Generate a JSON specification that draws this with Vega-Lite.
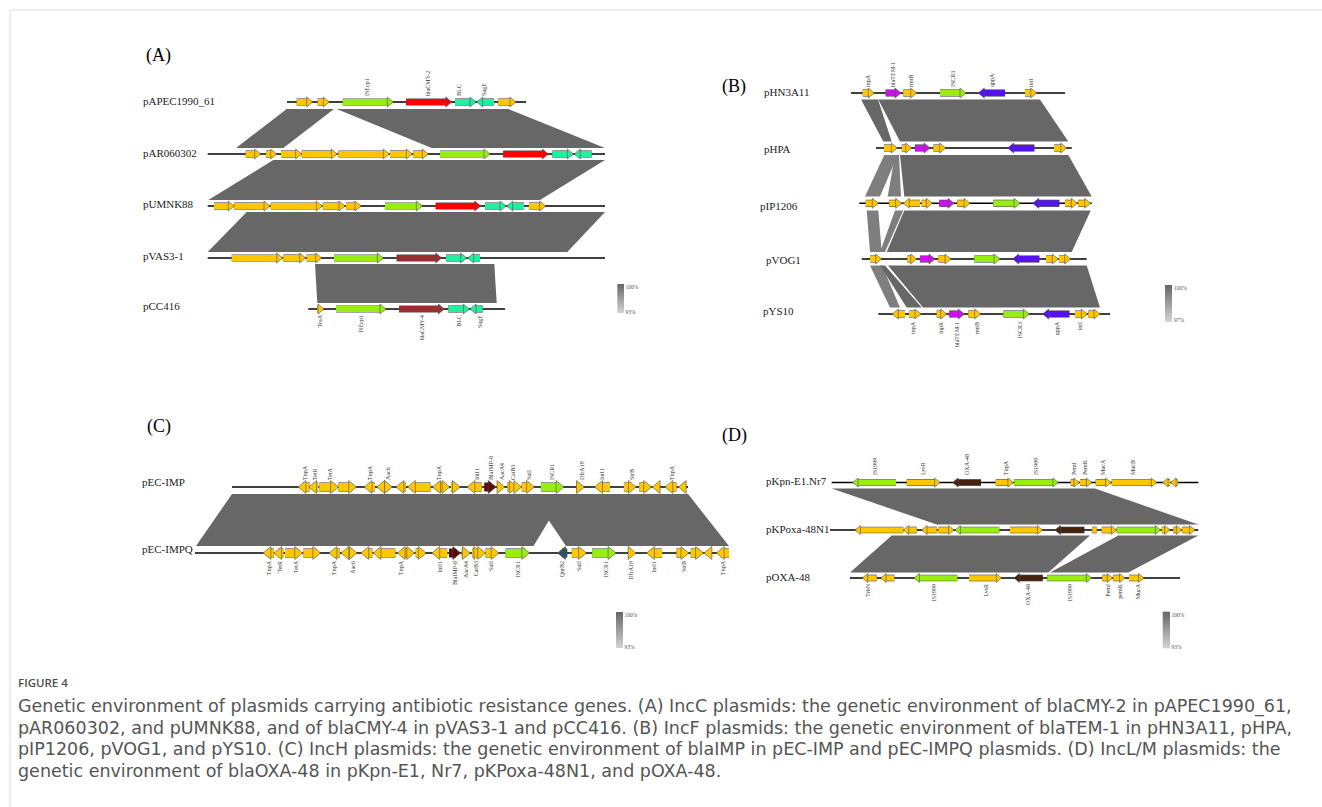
{
  "$schema": "https://vega.github.io/schema/vega-lite/v6.json",
  "width": 1322,
  "height": 807,
  "autosize": "none",
  "padding": 0,
  "background": "white",
  "config": {"view": {"stroke": null}, "axis": {"disable": true}, "legend": {"disable": true}},
  "datasets": {
    "frame": [
      {"x": 10, "x2": 1322, "y": 10, "y2": 10},
      {"x": 10, "x2": 10, "y": 10, "y2": 807}
    ],
    "tracks": [
      {"x": 287, "x2": 526, "y": 102},
      {"x": 207.7, "x2": 605, "y": 154},
      {"x": 207.7, "x2": 605, "y": 206},
      {"x": 207.7, "x2": 605, "y": 258},
      {"x": 308.3, "x2": 505, "y": 309},
      {"x": 851, "x2": 1065, "y": 93},
      {"x": 876, "x2": 1071.7, "y": 148},
      {"x": 859.3, "x2": 1091.7, "y": 203.3},
      {"x": 861.7, "x2": 1086.7, "y": 259},
      {"x": 878.3, "x2": 1110, "y": 314},
      {"x": 232, "x2": 688, "y": 487},
      {"x": 195, "x2": 729, "y": 553},
      {"x": 831.7, "x2": 1198.3, "y": 482.5},
      {"x": 830, "x2": 1198.3, "y": 530},
      {"x": 850, "x2": 1180, "y": 578}
    ],
    "bands": [
      {"id": "a1", "y": 109, "xl": 286.7, "xr": 334, "c": "hd"},
      {"id": "a1", "y": 148, "xl": 236, "xr": 283.3, "c": "hd"},
      {"id": "a2", "y": 109, "xl": 336.7, "xr": 508.3, "c": "hd"},
      {"id": "a2", "y": 148, "xl": 431.7, "xr": 605, "c": "hd"},
      {"id": "a3", "y": 160, "xl": 273.3, "xr": 605, "c": "hd"},
      {"id": "a3", "y": 200, "xl": 208.3, "xr": 540, "c": "hd"},
      {"id": "a4", "y": 212, "xl": 246.7, "xr": 605, "c": "hd"},
      {"id": "a4", "y": 252, "xl": 207.7, "xr": 567.3, "c": "hd"},
      {"id": "a5", "y": 264, "xl": 315, "xr": 494.3, "c": "hd"},
      {"id": "a5", "y": 303, "xl": 317.3, "xr": 496.7, "c": "hd"},
      {"id": "h1L", "y": 99.5, "xl": 861, "xr": 878, "c": "hd"},
      {"id": "h1L", "y": 141.5, "xl": 883.3, "xr": 891.7, "c": "hd"},
      {"id": "h1B", "y": 99.5, "xl": 878.3, "xr": 1040, "c": "hd"},
      {"id": "h1B", "y": 141.5, "xl": 900, "xr": 1068.3, "c": "hd"},
      {"id": "h2a", "y": 155, "xl": 884.3, "xr": 897.7, "c": "hl"},
      {"id": "h2a", "y": 196.5, "xl": 865, "xr": 880, "c": "hl"},
      {"id": "h2b", "y": 155, "xl": 895, "xr": 899, "c": "hl"},
      {"id": "h2b", "y": 196.5, "xl": 887.7, "xr": 901, "c": "hl"},
      {"id": "h2B", "y": 155, "xl": 900, "xr": 1068.3, "c": "hd"},
      {"id": "h2B", "y": 196.5, "xl": 904.3, "xr": 1091.7, "c": "hd"},
      {"id": "h3c", "y": 210.5, "xl": 866.7, "xr": 878.3, "c": "hl"},
      {"id": "h3c", "y": 252, "xl": 870, "xr": 881.7, "c": "hl"},
      {"id": "h3d", "y": 210.5, "xl": 895, "xr": 903.3, "c": "hl"},
      {"id": "h3d", "y": 252, "xl": 880, "xr": 885, "c": "hl"},
      {"id": "h3B", "y": 210.5, "xl": 904.3, "xr": 1090.7, "c": "hd"},
      {"id": "h3B", "y": 252, "xl": 886.7, "xr": 1071.7, "c": "hd"},
      {"id": "h4e", "y": 265.5, "xl": 870, "xr": 882, "c": "hl"},
      {"id": "h4e", "y": 307.5, "xl": 890, "xr": 900, "c": "hl"},
      {"id": "h4f", "y": 265.5, "xl": 880, "xr": 885, "c": "hd"},
      {"id": "h4f", "y": 307.5, "xl": 906.7, "xr": 921.7, "c": "hd"},
      {"id": "h4B", "y": 265.5, "xl": 888, "xr": 1086.7, "c": "hd"},
      {"id": "h4B", "y": 307.5, "xl": 923, "xr": 1100, "c": "hd"},
      {"id": "c1", "y": 494, "xl": 232, "xr": 565, "c": "hd"},
      {"id": "c1", "y": 546, "xl": 196, "xr": 533.5, "c": "hd"},
      {"id": "c2", "y": 494, "xl": 531, "xr": 688, "c": "hd"},
      {"id": "c2", "y": 546, "xl": 566, "xr": 729, "c": "hd"},
      {"id": "d1", "y": 488.5, "xl": 831.7, "xr": 1095, "c": "hd"},
      {"id": "d1", "y": 524.5, "xl": 936.7, "xr": 1198.3, "c": "hd"},
      {"id": "d2", "y": 535.5, "xl": 891.7, "xr": 1090, "c": "hd"},
      {"id": "d2", "y": 572.5, "xl": 850, "xr": 1048.3, "c": "hd"},
      {"id": "d3", "y": 535.5, "xl": 1118.3, "xr": 1198.3, "c": "hd"},
      {"id": "d3", "y": 572.5, "xl": 1050, "xr": 1128.3, "c": "hd"}
    ],
    "genes": [
      {"p": "A", "y": 102, "s": 296.7, "e": 312.7, "d": "+", "c": "y"},
      {"p": "A", "y": 102, "s": 317.7, "e": 329.3, "d": "+", "c": "y"},
      {"p": "A", "y": 102, "s": 342.7, "e": 393.3, "d": "+", "c": "g"},
      {"p": "A", "y": 102, "s": 406, "e": 451.7, "d": "+", "c": "r"},
      {"p": "A", "y": 102, "s": 455, "e": 476, "d": "+", "c": "t"},
      {"p": "A", "y": 102, "s": 476.7, "e": 494, "d": "-", "c": "t"},
      {"p": "A", "y": 102, "s": 498.3, "e": 516, "d": "+", "c": "y"},
      {"p": "A", "y": 154, "s": 245.7, "e": 260.7, "d": "+", "c": "y"},
      {"p": "A", "y": 154, "s": 266, "e": 276.7, "d": "+", "c": "y"},
      {"p": "A", "y": 154, "s": 281, "e": 301.7, "d": "+", "c": "y"},
      {"p": "A", "y": 154, "s": 301.7, "e": 337.3, "d": "+", "c": "y"},
      {"p": "A", "y": 154, "s": 338.3, "e": 389.3, "d": "+", "c": "y"},
      {"p": "A", "y": 154, "s": 390, "e": 412.3, "d": "+", "c": "y"},
      {"p": "A", "y": 154, "s": 413.3, "e": 428.3, "d": "+", "c": "y"},
      {"p": "A", "y": 154, "s": 440, "e": 490, "d": "+", "c": "g"},
      {"p": "A", "y": 154, "s": 503.3, "e": 548.3, "d": "+", "c": "r"},
      {"p": "A", "y": 154, "s": 552.3, "e": 573.3, "d": "+", "c": "t"},
      {"p": "A", "y": 154, "s": 574.3, "e": 591.7, "d": "-", "c": "t"},
      {"p": "A", "y": 206, "s": 214, "e": 234.3, "d": "+", "c": "y"},
      {"p": "A", "y": 206, "s": 234.3, "e": 270, "d": "+", "c": "y"},
      {"p": "A", "y": 206, "s": 270.7, "e": 322.3, "d": "+", "c": "y"},
      {"p": "A", "y": 206, "s": 322.7, "e": 345, "d": "+", "c": "y"},
      {"p": "A", "y": 206, "s": 346, "e": 361, "d": "+", "c": "y"},
      {"p": "A", "y": 206, "s": 385, "e": 422.3, "d": "+", "c": "g"},
      {"p": "A", "y": 206, "s": 435.7, "e": 480.7, "d": "+", "c": "r"},
      {"p": "A", "y": 206, "s": 485, "e": 506, "d": "+", "c": "t"},
      {"p": "A", "y": 206, "s": 506.7, "e": 524, "d": "-", "c": "t"},
      {"p": "A", "y": 206, "s": 529, "e": 545.7, "d": "+", "c": "y"},
      {"p": "A", "y": 258, "s": 231.7, "e": 282.7, "d": "+", "c": "y"},
      {"p": "A", "y": 258, "s": 283.3, "e": 305.7, "d": "+", "c": "y"},
      {"p": "A", "y": 258, "s": 306.7, "e": 321.7, "d": "+", "c": "y"},
      {"p": "A", "y": 258, "s": 334, "e": 383.3, "d": "+", "c": "g"},
      {"p": "A", "y": 258, "s": 396.7, "e": 441.7, "d": "+", "c": "dr"},
      {"p": "A", "y": 258, "s": 446, "e": 466.7, "d": "+", "c": "t"},
      {"p": "A", "y": 258, "s": 467.7, "e": 480, "d": "-", "c": "t"},
      {"p": "A", "y": 309, "s": 317.3, "e": 324, "d": "+", "c": "y"},
      {"p": "A", "y": 309, "s": 336, "e": 386, "d": "+", "c": "g"},
      {"p": "A", "y": 309, "s": 399, "e": 444.3, "d": "+", "c": "dr"},
      {"p": "A", "y": 309, "s": 448.3, "e": 469.3, "d": "+", "c": "t"},
      {"p": "A", "y": 309, "s": 470, "e": 482.7, "d": "-", "c": "t"},
      {"p": "B", "y": 93, "s": 862.7, "e": 874.3, "d": "+", "c": "y"},
      {"p": "B", "y": 93, "s": 885.7, "e": 901, "d": "+", "c": "m"},
      {"p": "B", "y": 93, "s": 903.3, "e": 916.7, "d": "+", "c": "y"},
      {"p": "B", "y": 93, "s": 940, "e": 966, "d": "+", "c": "g"},
      {"p": "B", "y": 93, "s": 978.3, "e": 1005, "d": "-", "c": "p"},
      {"p": "B", "y": 93, "s": 1025, "e": 1036.7, "d": "+", "c": "y"},
      {"p": "B", "y": 148, "s": 884, "e": 897.3, "d": "+", "c": "y"},
      {"p": "B", "y": 148, "s": 901.7, "e": 911.7, "d": "+", "c": "y"},
      {"p": "B", "y": 148, "s": 915, "e": 930, "d": "+", "c": "m"},
      {"p": "B", "y": 148, "s": 933.3, "e": 945.7, "d": "+", "c": "y"},
      {"p": "B", "y": 148, "s": 1007.7, "e": 1034.3, "d": "-", "c": "p"},
      {"p": "B", "y": 148, "s": 1054, "e": 1066.7, "d": "+", "c": "y"},
      {"p": "B", "y": 203.3, "s": 865.7, "e": 878.3, "d": "+", "c": "y"},
      {"p": "B", "y": 203.3, "s": 889.3, "e": 901.7, "d": "+", "c": "y"},
      {"p": "B", "y": 203.3, "s": 903.3, "e": 920, "d": "-", "c": "y"},
      {"p": "B", "y": 203.3, "s": 921.7, "e": 932.3, "d": "+", "c": "y"},
      {"p": "B", "y": 203.3, "s": 939.3, "e": 954, "d": "+", "c": "m"},
      {"p": "B", "y": 203.3, "s": 957.3, "e": 970, "d": "+", "c": "y"},
      {"p": "B", "y": 203.3, "s": 993.3, "e": 1020, "d": "+", "c": "g"},
      {"p": "B", "y": 203.3, "s": 1032.7, "e": 1059.3, "d": "-", "c": "p"},
      {"p": "B", "y": 203.3, "s": 1065, "e": 1077.3, "d": "+", "c": "y"},
      {"p": "B", "y": 203.3, "s": 1078.3, "e": 1090.7, "d": "+", "c": "y"},
      {"p": "B", "y": 259, "s": 870, "e": 881.7, "d": "+", "c": "y"},
      {"p": "B", "y": 259, "s": 907.3, "e": 916.7, "d": "+", "c": "y"},
      {"p": "B", "y": 259, "s": 920, "e": 935, "d": "+", "c": "m"},
      {"p": "B", "y": 259, "s": 938.3, "e": 951, "d": "+", "c": "y"},
      {"p": "B", "y": 259, "s": 974.3, "e": 1000, "d": "+", "c": "g"},
      {"p": "B", "y": 259, "s": 1012.7, "e": 1039.3, "d": "-", "c": "p"},
      {"p": "B", "y": 259, "s": 1046, "e": 1058.3, "d": "+", "c": "y"},
      {"p": "B", "y": 259, "s": 1059, "e": 1070.7, "d": "+", "c": "y"},
      {"p": "B", "y": 314, "s": 892.3, "e": 905, "d": "-", "c": "y"},
      {"p": "B", "y": 314, "s": 909, "e": 921, "d": "+", "c": "y"},
      {"p": "B", "y": 314, "s": 936.7, "e": 946.7, "d": "+", "c": "y"},
      {"p": "B", "y": 314, "s": 949.3, "e": 964.3, "d": "+", "c": "m"},
      {"p": "B", "y": 314, "s": 968.3, "e": 980.7, "d": "+", "c": "y"},
      {"p": "B", "y": 314, "s": 1003.3, "e": 1029.3, "d": "+", "c": "g"},
      {"p": "B", "y": 314, "s": 1042.7, "e": 1069.3, "d": "-", "c": "p"},
      {"p": "B", "y": 314, "s": 1075, "e": 1087.3, "d": "+", "c": "y"},
      {"p": "B", "y": 314, "s": 1088.3, "e": 1100, "d": "+", "c": "y"},
      {"p": "C", "y": 487, "s": 298.1, "e": 309.6, "d": "-", "c": "y"},
      {"p": "C", "y": 487, "s": 308.8, "e": 318.1, "d": "-", "c": "y"},
      {"p": "C", "y": 487, "s": 319.2, "e": 338.4, "d": "+", "c": "y"},
      {"p": "C", "y": 487, "s": 338.4, "e": 356.5, "d": "+", "c": "y"},
      {"p": "C", "y": 487, "s": 364.2, "e": 374.9, "d": "-", "c": "y"},
      {"p": "C", "y": 487, "s": 376.8, "e": 381.8, "d": "-", "c": "y"},
      {"p": "C", "y": 487, "s": 381.8, "e": 392.2, "d": "+", "c": "y"},
      {"p": "C", "y": 487, "s": 396, "e": 405.7, "d": "-", "c": "y"},
      {"p": "C", "y": 487, "s": 407.6, "e": 430.6, "d": "-", "c": "y"},
      {"p": "C", "y": 487, "s": 432.6, "e": 442.2, "d": "-", "c": "y"},
      {"p": "C", "y": 487, "s": 447.1, "e": 449.8, "d": "+", "c": "y"},
      {"p": "C", "y": 487, "s": 451, "e": 460.2, "d": "+", "c": "y"},
      {"p": "C", "y": 487, "s": 467.1, "e": 481.7, "d": "-", "c": "y"},
      {"p": "C", "y": 487, "s": 484.4, "e": 496, "d": "+", "c": "imp"},
      {"p": "C", "y": 487, "s": 497.1, "e": 504.8, "d": "+", "c": "y"},
      {"p": "C", "y": 487, "s": 507.5, "e": 517.1, "d": "+", "c": "y"},
      {"p": "C", "y": 487, "s": 517.8, "e": 521.7, "d": "+", "c": "y"},
      {"p": "C", "y": 487, "s": 521.7, "e": 534.4, "d": "+", "c": "y"},
      {"p": "C", "y": 487, "s": 540.9, "e": 563.9, "d": "+", "c": "g"},
      {"p": "C", "y": 487, "s": 576.6, "e": 584.3, "d": "+", "c": "y"},
      {"p": "C", "y": 487, "s": 594.7, "e": 610, "d": "-", "c": "y"},
      {"p": "C", "y": 487, "s": 623.9, "e": 636.2, "d": "+", "c": "y"},
      {"p": "C", "y": 487, "s": 639.2, "e": 651.5, "d": "+", "c": "y"},
      {"p": "C", "y": 487, "s": 652.3, "e": 658.1, "d": "-", "c": "y"},
      {"p": "C", "y": 487, "s": 665, "e": 676.5, "d": "-", "c": "y"},
      {"p": "C", "y": 487, "s": 678.4, "e": 685.3, "d": "-", "c": "y"},
      {"p": "C", "y": 553, "s": 263.1, "e": 273.8, "d": "-", "c": "y"},
      {"p": "C", "y": 553, "s": 273.8, "e": 283.4, "d": "-", "c": "y"},
      {"p": "C", "y": 553, "s": 285, "e": 302.6, "d": "+", "c": "y"},
      {"p": "C", "y": 553, "s": 303.4, "e": 320.6, "d": "+", "c": "y"},
      {"p": "C", "y": 553, "s": 329.1, "e": 339.8, "d": "-", "c": "y"},
      {"p": "C", "y": 553, "s": 341, "e": 346.3, "d": "-", "c": "y"},
      {"p": "C", "y": 553, "s": 346.7, "e": 357.1, "d": "+", "c": "y"},
      {"p": "C", "y": 553, "s": 360.9, "e": 372.4, "d": "-", "c": "y"},
      {"p": "C", "y": 553, "s": 373.2, "e": 395.4, "d": "-", "c": "y"},
      {"p": "C", "y": 553, "s": 397.3, "e": 408.8, "d": "-", "c": "y"},
      {"p": "C", "y": 553, "s": 411.9, "e": 414.6, "d": "+", "c": "y"},
      {"p": "C", "y": 553, "s": 415.7, "e": 426.1, "d": "+", "c": "y"},
      {"p": "C", "y": 553, "s": 431.9, "e": 447.2, "d": "-", "c": "y"},
      {"p": "C", "y": 553, "s": 449.1, "e": 460.6, "d": "+", "c": "imp"},
      {"p": "C", "y": 553, "s": 461.8, "e": 470.2, "d": "+", "c": "y"},
      {"p": "C", "y": 553, "s": 472.1, "e": 481.7, "d": "+", "c": "y"},
      {"p": "C", "y": 553, "s": 481.7, "e": 485.5, "d": "+", "c": "y"},
      {"p": "C", "y": 553, "s": 485.5, "e": 498.9, "d": "+", "c": "y"},
      {"p": "C", "y": 553, "s": 505.5, "e": 529.6, "d": "+", "c": "g"},
      {"p": "C", "y": 553, "s": 557.6, "e": 567.2, "d": "-", "c": "q"},
      {"p": "C", "y": 553, "s": 571.8, "e": 586.4, "d": "+", "c": "y"},
      {"p": "C", "y": 553, "s": 592.2, "e": 615.9, "d": "+", "c": "g"},
      {"p": "C", "y": 553, "s": 628.2, "e": 635.9, "d": "+", "c": "y"},
      {"p": "C", "y": 553, "s": 646.6, "e": 662, "d": "-", "c": "y"},
      {"p": "C", "y": 553, "s": 676.5, "e": 688.8, "d": "+", "c": "y"},
      {"p": "C", "y": 553, "s": 690.7, "e": 703.4, "d": "+", "c": "y"},
      {"p": "C", "y": 553, "s": 704.1, "e": 709.9, "d": "-", "c": "y"},
      {"p": "C", "y": 553, "s": 716.4, "e": 729, "d": "-", "c": "y"},
      {"p": "D", "y": 482.5, "s": 852.7, "e": 896, "d": "-", "c": "g"},
      {"p": "D", "y": 482.5, "s": 906.7, "e": 940, "d": "+", "c": "y"},
      {"p": "D", "y": 482.5, "s": 952.7, "e": 981, "d": "-", "c": "b"},
      {"p": "D", "y": 482.5, "s": 995.7, "e": 1013.3, "d": "+", "c": "y"},
      {"p": "D", "y": 482.5, "s": 1014.3, "e": 1058.3, "d": "+", "c": "g"},
      {"p": "D", "y": 482.5, "s": 1070.7, "e": 1079.3, "d": "+", "c": "y"},
      {"p": "D", "y": 482.5, "s": 1080, "e": 1091.7, "d": "+", "c": "y"},
      {"p": "D", "y": 482.5, "s": 1095.7, "e": 1111, "d": "+", "c": "y"},
      {"p": "D", "y": 482.5, "s": 1111.7, "e": 1156.7, "d": "+", "c": "y"},
      {"p": "D", "y": 482.5, "s": 1162.7, "e": 1170, "d": "-", "c": "y"},
      {"p": "D", "y": 482.5, "s": 1170.7, "e": 1177.7, "d": "-", "c": "y"},
      {"p": "D", "y": 530, "s": 855, "e": 903.3, "d": "-", "c": "y"},
      {"p": "D", "y": 530, "s": 903.3, "e": 916.7, "d": "-", "c": "y"},
      {"p": "D", "y": 530, "s": 921.7, "e": 936.7, "d": "-", "c": "y"},
      {"p": "D", "y": 530, "s": 938.3, "e": 954, "d": "+", "c": "y"},
      {"p": "D", "y": 530, "s": 955, "e": 999.3, "d": "-", "c": "g"},
      {"p": "D", "y": 530, "s": 1010, "e": 1042.7, "d": "+", "c": "y"},
      {"p": "D", "y": 530, "s": 1055, "e": 1084.3, "d": "-", "c": "b"},
      {"p": "D", "y": 530, "s": 1092.3, "e": 1101.7, "d": "0", "c": "y"},
      {"p": "D", "y": 530, "s": 1101.7, "e": 1116.7, "d": "+", "c": "y"},
      {"p": "D", "y": 530, "s": 1116.7, "e": 1160.7, "d": "+", "c": "g"},
      {"p": "D", "y": 530, "s": 1161.7, "e": 1170, "d": "+", "c": "y"},
      {"p": "D", "y": 530, "s": 1173.3, "e": 1181.7, "d": "+", "c": "y"},
      {"p": "D", "y": 530, "s": 1182.3, "e": 1195, "d": "+", "c": "y"},
      {"p": "D", "y": 578, "s": 862.3, "e": 876.7, "d": "-", "c": "y"},
      {"p": "D", "y": 578, "s": 880.7, "e": 894.3, "d": "-", "c": "y"},
      {"p": "D", "y": 578, "s": 914, "e": 957.3, "d": "-", "c": "g"},
      {"p": "D", "y": 578, "s": 969, "e": 1001.7, "d": "+", "c": "y"},
      {"p": "D", "y": 578, "s": 1014, "e": 1042.7, "d": "-", "c": "b"},
      {"p": "D", "y": 578, "s": 1047.3, "e": 1091.7, "d": "+", "c": "g"},
      {"p": "D", "y": 578, "s": 1102.3, "e": 1112.7, "d": "+", "c": "y"},
      {"p": "D", "y": 578, "s": 1113.3, "e": 1125, "d": "+", "c": "y"},
      {"p": "D", "y": 578, "s": 1129, "e": 1144, "d": "+", "c": "y"}
    ],
    "glabels": [
      {"x": 367, "y": 96, "t": "ISEcp1", "pos": "t"},
      {"x": 427.7, "y": 96, "t": "blaCMY-2", "pos": "t"},
      {"x": 459, "y": 96, "t": "BLC", "pos": "t"},
      {"x": 484, "y": 96, "t": "SugE", "pos": "t"},
      {"x": 320, "y": 315, "t": "TraA", "pos": "b"},
      {"x": 360.7, "y": 315, "t": "ISEcp1", "pos": "b"},
      {"x": 421.7, "y": 315, "t": "blaCMY-4", "pos": "b"},
      {"x": 459.3, "y": 315, "t": "BLC", "pos": "b"},
      {"x": 480, "y": 315, "t": "SugE", "pos": "b"},
      {"x": 868.3, "y": 87, "t": "tnpA", "pos": "t"},
      {"x": 893.3, "y": 87, "t": "blaTEM-1", "pos": "t"},
      {"x": 910.7, "y": 87, "t": "rmtB", "pos": "t"},
      {"x": 952.7, "y": 87, "t": "ISCR3", "pos": "t"},
      {"x": 991.7, "y": 87, "t": "qppA", "pos": "t"},
      {"x": 1030.7, "y": 87, "t": "intI", "pos": "t"},
      {"x": 913.3, "y": 322, "t": "tnpA", "pos": "b"},
      {"x": 941, "y": 322, "t": "tnpR", "pos": "b"},
      {"x": 956.7, "y": 322, "t": "blaTEM-1", "pos": "b"},
      {"x": 976.7, "y": 322, "t": "rmtB", "pos": "b"},
      {"x": 1020, "y": 322, "t": "ISCR3", "pos": "b"},
      {"x": 1057.3, "y": 322, "t": "qppA", "pos": "b"},
      {"x": 1080, "y": 322, "t": "intI", "pos": "b"},
      {"x": 304.6, "y": 480, "t": "TnpA", "pos": "t"},
      {"x": 314.6, "y": 480, "t": "TetR", "pos": "t"},
      {"x": 329.6, "y": 480, "t": "TetA", "pos": "t"},
      {"x": 370.3, "y": 480, "t": "TnpA", "pos": "t"},
      {"x": 388.4, "y": 480, "t": "Aac6", "pos": "t"},
      {"x": 438.7, "y": 480, "t": "TnpA", "pos": "t"},
      {"x": 476.7, "y": 480, "t": "IntI1", "pos": "t"},
      {"x": 490.9, "y": 480, "t": "BlaIMP-8", "pos": "t"},
      {"x": 501.7, "y": 480, "t": "AacA4", "pos": "t"},
      {"x": 512.5, "y": 480, "t": "CatB3", "pos": "t"},
      {"x": 528.6, "y": 480, "t": "SulI", "pos": "t"},
      {"x": 552.4, "y": 480, "t": "ISCR1", "pos": "t"},
      {"x": 581.6, "y": 480, "t": "DfrA19", "pos": "t"},
      {"x": 602.4, "y": 480, "t": "IntI1", "pos": "t"},
      {"x": 632.3, "y": 480, "t": "StrB", "pos": "t"},
      {"x": 671.5, "y": 480, "t": "TnpA", "pos": "t"},
      {"x": 268.9, "y": 561, "t": "TnpA", "pos": "b"},
      {"x": 279.6, "y": 561, "t": "TetR", "pos": "b"},
      {"x": 295.7, "y": 561, "t": "TetA", "pos": "b"},
      {"x": 334.1, "y": 561, "t": "TnpA", "pos": "b"},
      {"x": 352.5, "y": 561, "t": "Aac6", "pos": "b"},
      {"x": 401.2, "y": 561, "t": "TnpA", "pos": "b"},
      {"x": 439.5, "y": 561, "t": "IntI1", "pos": "b"},
      {"x": 454.9, "y": 561, "t": "BlaIMP-8", "pos": "b"},
      {"x": 466.4, "y": 561, "t": "AacA4", "pos": "b"},
      {"x": 475.9, "y": 561, "t": "CatB3", "pos": "b"},
      {"x": 491.3, "y": 561, "t": "SulI", "pos": "b"},
      {"x": 518.2, "y": 561, "t": "ISCR1", "pos": "b"},
      {"x": 562.2, "y": 561, "t": "QnrB2", "pos": "b"},
      {"x": 579.4, "y": 561, "t": "SulI", "pos": "b"},
      {"x": 605.6, "y": 561, "t": "ISCR1", "pos": "b"},
      {"x": 631.3, "y": 561, "t": "DfrA19", "pos": "b"},
      {"x": 654.3, "y": 561, "t": "IntI1", "pos": "b"},
      {"x": 683.8, "y": 561, "t": "StrB", "pos": "b"},
      {"x": 723.3, "y": 561, "t": "TnpA", "pos": "b"},
      {"x": 875, "y": 475, "t": "IS1999", "pos": "t"},
      {"x": 922.7, "y": 475, "t": "LysR", "pos": "t"},
      {"x": 967.3, "y": 475, "t": "OXA-48", "pos": "t"},
      {"x": 1005.7, "y": 475, "t": "TnpA", "pos": "t"},
      {"x": 1036, "y": 475, "t": "IS1999", "pos": "t"},
      {"x": 1074.3, "y": 475, "t": "PemI", "pos": "t"},
      {"x": 1085, "y": 475, "t": "PemK", "pos": "t"},
      {"x": 1103.3, "y": 475, "t": "MucA", "pos": "t"},
      {"x": 1133.3, "y": 475, "t": "MucB", "pos": "t"},
      {"x": 868.3, "y": 584, "t": "TrbN", "pos": "b"},
      {"x": 934.3, "y": 584, "t": "IS1999", "pos": "b"},
      {"x": 985.7, "y": 584, "t": "LysR", "pos": "b"},
      {"x": 1027.7, "y": 584, "t": "OXA-48", "pos": "b"},
      {"x": 1070, "y": 584, "t": "IS1999", "pos": "b"},
      {"x": 1108.3, "y": 584, "t": "PemI", "pos": "b"},
      {"x": 1120, "y": 584, "t": "pemK", "pos": "b"},
      {"x": 1137.7, "y": 584, "t": "MucA", "pos": "b"}
    ],
    "names": [
      {"x": 143, "y": 102, "t": "pAPEC1990_61"},
      {"x": 143, "y": 154, "t": "pAR060302"},
      {"x": 143, "y": 205, "t": "pUMNK88"},
      {"x": 143, "y": 257, "t": "pVAS3-1"},
      {"x": 143, "y": 307, "t": "pCC416"},
      {"x": 764, "y": 93, "t": "pHN3A11"},
      {"x": 764, "y": 150, "t": "pHPA"},
      {"x": 760, "y": 207, "t": "pIP1206"},
      {"x": 766, "y": 261, "t": "pVOG1"},
      {"x": 763, "y": 312, "t": "pYS10"},
      {"x": 142, "y": 483, "t": "pEC-IMP"},
      {"x": 142, "y": 550, "t": "pEC-IMPQ"},
      {"x": 766, "y": 482, "t": "pKpn-E1.Nr7"},
      {"x": 766, "y": 530, "t": "pKPoxa-48N1"},
      {"x": 766, "y": 578, "t": "pOXA-48"}
    ],
    "panels": [
      {"x": 146, "y": 56, "t": "(A)"},
      {"x": 722, "y": 87, "t": "(B)"},
      {"x": 147, "y": 427, "t": "(C)"},
      {"x": 722, "y": 436, "t": "(D)"}
    ],
    "legends": [
      {"x": 617.3, "x2": 624, "y": 284, "y2": 313},
      {"x": 1165, "x2": 1172, "y": 285, "y2": 322},
      {"x": 616, "x2": 623, "y": 612, "y2": 648},
      {"x": 1162.7, "x2": 1170, "y": 611.7, "y2": 648.3}
    ],
    "leglabels": [
      {"x": 625.5, "y": 287, "t": "100%"},
      {"x": 625.5, "y": 311.5, "t": "93%"},
      {"x": 1174, "y": 288, "t": "100%"},
      {"x": 1174, "y": 320, "t": "97%"},
      {"x": 624.5, "y": 615, "t": "100%"},
      {"x": 624.5, "y": 646.5, "t": "93%"},
      {"x": 1171.5, "y": 615, "t": "100%"},
      {"x": 1171.5, "y": 647, "t": "93%"}
    ],
    "caption": [
      {"x": 18, "y": 707, "t": "Genetic environment of plasmids carrying antibiotic resistance genes. (A) IncC plasmids: the genetic environment of blaCMY-2 in pAPEC1990_61,"},
      {"x": 18, "y": 728.5, "t": "pAR060302, and pUMNK88, and of blaCMY-4 in pVAS3-1 and pCC416. (B) IncF plasmids: the genetic environment of blaTEM-1 in pHN3A11, pHPA,"},
      {"x": 18, "y": 750, "t": "pIP1206, pVOG1, and pYS10. (C) IncH plasmids: the genetic environment of blaIMP in pEC-IMP and pEC-IMPQ plasmids. (D) IncL/M plasmids: the"},
      {"x": 18, "y": 771.5, "t": "genetic environment of blaOXA-48 in pKpn-E1, Nr7, pKPoxa-48N1, and pOXA-48."}
    ],
    "fig": [
      {"x": 18, "y": 684, "t": "FIGURE 4"}
    ]
  },
  "resolve": {"scale": {"strokeWidth": "independent", "size": "independent"}},
  "layer": [
    {
      "data": {"name": "frame"},
      "mark": {"type": "rule", "color": "#dcdcdc", "strokeWidth": 1},
      "encoding": {
        "x": {"field": "x", "type": "quantitative", "scale": {"domain": [0, 1322], "nice": false, "zero": false}},
        "x2": {"field": "x2"},
        "y": {"field": "y", "type": "quantitative", "scale": {"domain": [0, 807], "nice": false, "zero": false, "reverse": true}},
        "y2": {"field": "y2"}
      }
    },
    {
      "data": {"name": "bands"},
      "mark": {"type": "area", "orient": "horizontal", "opacity": 1},
      "encoding": {
        "y": {"field": "y", "type": "quantitative"},
        "x": {"field": "xl", "type": "quantitative"},
        "x2": {"field": "xr"},
        "detail": {"field": "id"},
        "color": {"field": "c", "type": "nominal", "scale": {"domain": ["y", "g", "r", "dr", "t", "m", "p", "b", "imp", "q", "hd", "hl"], "range": ["#FFC700", "#99EE11", "#FF0000", "#992E2E", "#22F0A0", "#CC11EE", "#5511EE", "#44220F", "#5A0A0A", "#2F5360", "#676767", "#7E7E7E"]}}
      }
    },
    {
      "data": {"name": "tracks"},
      "mark": {"type": "rule", "color": "#000000", "strokeWidth": 1.6},
      "encoding": {
        "x": {"field": "x", "type": "quantitative"},
        "x2": {"field": "x2"},
        "y": {"field": "y", "type": "quantitative"}
      }
    },
    {
      "data": {"name": "genes"},
      "transform": [{"filter": "datum.e - datum.s > 6 && datum.d != '-'"}],
      "mark": {"type": "rule", "color": "#505050", "x2Offset": -5, "strokeCap": "butt"},
      "encoding": {
        "x": {"field": "s", "type": "quantitative"},
        "x2": {"field": "e"},
        "y": {"field": "y", "type": "quantitative"},
        "strokeWidth": {"field": "p", "type": "ordinal", "scale": {"type": "ordinal", "domain": ["A", "B", "C", "D"], "range": [7.2, 7.2, 9.2, 6.7]}}
      }
    },
    {
      "data": {"name": "genes"},
      "transform": [{"filter": "datum.e - datum.s > 6 && datum.d == '-'"}],
      "mark": {"type": "rule", "color": "#505050", "xOffset": 5, "strokeCap": "butt"},
      "encoding": {
        "x": {"field": "s", "type": "quantitative"},
        "x2": {"field": "e"},
        "y": {"field": "y", "type": "quantitative"},
        "strokeWidth": {"field": "p", "type": "ordinal", "scale": {"type": "ordinal", "domain": ["A", "B", "C", "D"], "range": [7.2, 7.2, 9.2, 6.7]}}
      }
    },
    {
      "data": {"name": "genes"},
      "transform": [{"filter": "datum.e - datum.s > 6 && datum.d != '-'"}],
      "mark": {"type": "rule", "x2Offset": -5, "strokeCap": "butt"},
      "encoding": {
        "x": {"field": "s", "type": "quantitative"},
        "x2": {"field": "e"},
        "y": {"field": "y", "type": "quantitative"},
        "color": {"field": "c", "type": "nominal"},
        "strokeWidth": {"field": "p", "type": "ordinal", "scale": {"type": "ordinal", "domain": ["A", "B", "C", "D"], "range": [6, 6, 8, 5.5]}}
      }
    },
    {
      "data": {"name": "genes"},
      "transform": [{"filter": "datum.e - datum.s > 6 && datum.d == '-'"}],
      "mark": {"type": "rule", "xOffset": 5, "strokeCap": "butt"},
      "encoding": {
        "x": {"field": "s", "type": "quantitative"},
        "x2": {"field": "e"},
        "y": {"field": "y", "type": "quantitative"},
        "color": {"field": "c", "type": "nominal"},
        "strokeWidth": {"field": "p", "type": "ordinal", "scale": {"type": "ordinal", "domain": ["A", "B", "C", "D"], "range": [6, 6, 8, 5.5]}}
      }
    },
    {
      "data": {"name": "genes"},
      "transform": [{"filter": "datum.d == '+'"}],
      "mark": {"type": "point", "filled": true, "opacity": 1, "shape": "M0,0L-1.2,-1L-1.2,1Z", "stroke": "#505050", "strokeWidth": 0.6},
      "encoding": {
        "x": {"field": "e", "type": "quantitative"},
        "y": {"field": "y", "type": "quantitative"},
        "color": {"field": "c", "type": "nominal"},
        "size": {"field": "p", "type": "ordinal", "scale": {"type": "ordinal", "domain": ["A", "B", "C", "D"], "range": [100, 100, 169, 81]}}
      }
    },
    {
      "data": {"name": "genes"},
      "transform": [{"filter": "datum.d == '-'"}],
      "mark": {"type": "point", "filled": true, "opacity": 1, "shape": "M0,0L1.2,-1L1.2,1Z", "stroke": "#505050", "strokeWidth": 0.6},
      "encoding": {
        "x": {"field": "s", "type": "quantitative"},
        "y": {"field": "y", "type": "quantitative"},
        "color": {"field": "c", "type": "nominal"},
        "size": {"field": "p", "type": "ordinal", "scale": {"type": "ordinal", "domain": ["A", "B", "C", "D"], "range": [100, 100, 169, 81]}}
      }
    },
    {
      "data": {"name": "glabels"},
      "transform": [{"filter": "datum.pos == 't'"}],
      "mark": {"type": "text", "angle": 270, "align": "left", "baseline": "middle", "font": "Liberation Serif", "fontSize": 6, "color": "#333333"},
      "encoding": {
        "x": {"field": "x", "type": "quantitative"},
        "y": {"field": "y", "type": "quantitative"},
        "text": {"field": "t"}
      }
    },
    {
      "data": {"name": "glabels"},
      "transform": [{"filter": "datum.pos == 'b'"}],
      "mark": {"type": "text", "angle": 270, "align": "right", "baseline": "middle", "font": "Liberation Serif", "fontSize": 6, "color": "#333333"},
      "encoding": {
        "x": {"field": "x", "type": "quantitative"},
        "y": {"field": "y", "type": "quantitative"},
        "text": {"field": "t"}
      }
    },
    {
      "data": {"name": "names"},
      "mark": {"type": "text", "align": "left", "baseline": "middle", "font": "Liberation Serif", "fontSize": 11, "color": "#222222"},
      "encoding": {
        "x": {"field": "x", "type": "quantitative"},
        "y": {"field": "y", "type": "quantitative"},
        "text": {"field": "t"}
      }
    },
    {
      "data": {"name": "panels"},
      "mark": {"type": "text", "align": "left", "baseline": "middle", "font": "Liberation Serif", "fontSize": 18, "color": "#000000"},
      "encoding": {
        "x": {"field": "x", "type": "quantitative"},
        "y": {"field": "y", "type": "quantitative"},
        "text": {"field": "t"}
      }
    },
    {
      "data": {"name": "legends"},
      "mark": {"type": "rect", "fill": {"gradient": "linear", "x1": 0, "y1": 0, "x2": 0, "y2": 1, "stops": [{"offset": 0, "color": "#666666"}, {"offset": 1, "color": "#d4d4d4"}]}},
      "encoding": {
        "x": {"field": "x", "type": "quantitative"},
        "x2": {"field": "x2"},
        "y": {"field": "y", "type": "quantitative"},
        "y2": {"field": "y2"}
      }
    },
    {
      "data": {"name": "leglabels"},
      "mark": {"type": "text", "align": "left", "baseline": "middle", "font": "Liberation Serif", "fontSize": 5.5, "color": "#555555"},
      "encoding": {
        "x": {"field": "x", "type": "quantitative"},
        "y": {"field": "y", "type": "quantitative"},
        "text": {"field": "t"}
      }
    },
    {
      "data": {"name": "fig"},
      "mark": {"type": "text", "align": "left", "baseline": "middle", "font": "Open Sans", "fontSize": 11.5, "fontWeight": 600, "color": "#4d4d4d"},
      "encoding": {
        "x": {"field": "x", "type": "quantitative"},
        "y": {"field": "y", "type": "quantitative"},
        "text": {"field": "t"}
      }
    },
    {
      "data": {"name": "caption"},
      "mark": {"type": "text", "align": "left", "baseline": "middle", "font": "DejaVu Sans", "fontSize": 17.5, "color": "#555555"},
      "encoding": {
        "x": {"field": "x", "type": "quantitative"},
        "y": {"field": "y", "type": "quantitative"},
        "text": {"field": "t"}
      }
    }
  ]
}
